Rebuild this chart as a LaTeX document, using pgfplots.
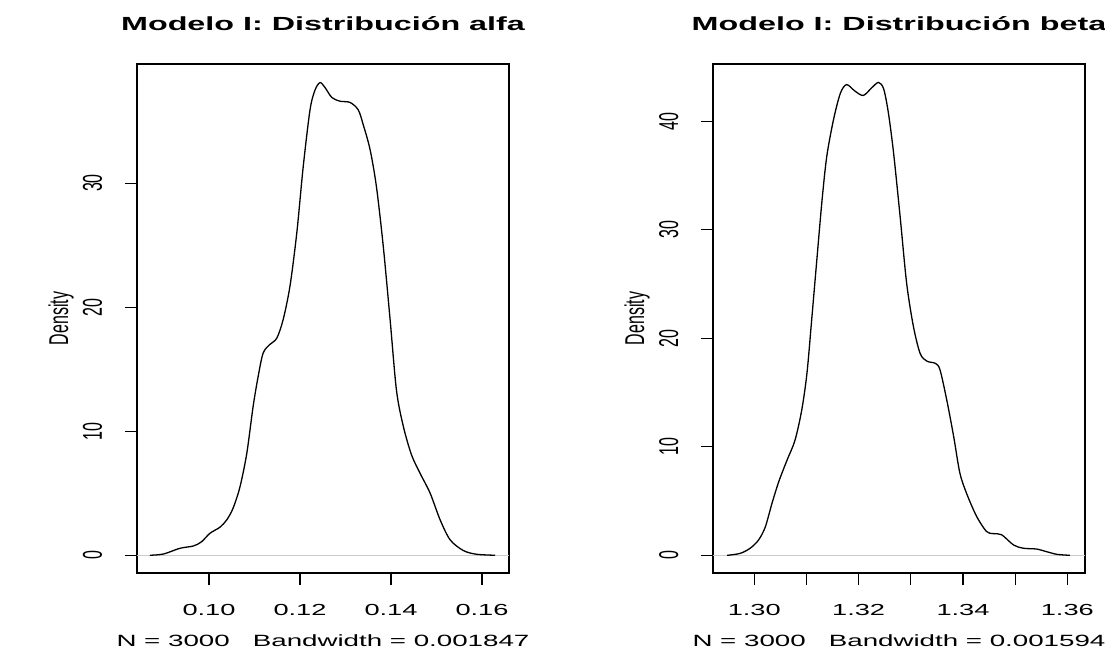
\documentclass[border=0pt]{standalone}
\usepackage{fontspec}
\setmainfont{Liberation Sans}[FakeStretch=1.7]
\newfontfamily\plainsans{Liberation Sans}
\usepackage{graphicx}
\usepackage{pgfplots}
\pgfplotsset{compat=1.18}

% rotated labels: stretch the glyph height so it reads as a horizontal stretch
\newcommand\vlab[1]{\scalebox{1}[1.7]{\plainsans\fontsize{16}{18}\selectfont #1}}

\pgfplotsset{
  rdens/.style={
    width=372pt, height=509pt, scale only axis,
    axis line style={line width=1.1pt},
    tick align=outside, tick pos=left, major tick length=12pt,
    every tick/.style={black, line width=1.1pt},
    xticklabel style={anchor=base, yshift=-30pt, font=\fontsize{16}{18}\selectfont},
    yticklabel style={xshift=-23pt, rotate=90, anchor=base},
    every axis title/.style={at={(0.5,1)}, anchor=base, yshift=33.3pt,
      font=\fontsize{19}{22}\selectfont\bfseries},
    every axis x label/.style={at={(axis description cs:0.5,0)}, anchor=base,
      yshift=-73pt, font=\fontsize{16.3}{18}\selectfont},
    every axis y label/.style={at={(axis description cs:-0.185,0.5)}, anchor=base, rotate=90},
  }
}

\begin{document}
\begin{tikzpicture}
\useasboundingbox (0,0) rectangle (1105pt,651pt);

\begin{axis}[rdens, at={(137pt,78pt)}, anchor=south west,
    xmin=0.08418, xmax=0.16593, ymin=-1.43, ymax=39.6,
    xtick={0.10,0.12,0.14,0.16}, xticklabels={0.10,0.12,0.14,0.16},
    ytick={0,10,20,30}, yticklabels={\vlab{0},\vlab{10},\vlab{20},\vlab{30}},
    title={Modelo I: Distribución alfa},
    xlabel={N = 3000\ \ \ Bandwidth = 0.001847},
    ylabel={\vlab{Density}}]
  \addplot[gray!40, line width=1pt, forget plot] coordinates {(0.08418,0) (0.16593,0)};
  \addplot[black, line width=1.3pt, smooth] coordinates {
    (0.0870,0) (0.0900,0.1) (0.0936,0.56) (0.0966,0.75) (0.0984,1.1)
    (0.1002,1.77) (0.1024,2.26) (0.1039,2.85) (0.1053,3.8) (0.1068,5.5)
    (0.1083,8.2) (0.1097,12.0) (0.1108,14.4) (0.1119,16.3) (0.1134,17.0)
    (0.1149,17.5) (0.1163,19.0) (0.1178,21.7) (0.1193,26.0) (0.1207,31.3)
    (0.1222,35.9) (0.1233,37.5) (0.1244,38.1) (0.1255,37.7) (0.1270,36.9)
    (0.1288,36.6) (0.1310,36.5) (0.1328,35.9) (0.1339,34.7) (0.1354,32.7)
    (0.1368,29.7) (0.1383,24.9) (0.1398,19.0) (0.1412,13.3) (0.1427,10.4)
    (0.1445,8.1) (0.1464,6.6) (0.1486,5.0) (0.1508,2.85) (0.1530,1.24)
    (0.1559,0.38) (0.1588,0.08) (0.1629,0)
  };
\end{axis}

\begin{axis}[rdens, at={(713pt,78pt)}, anchor=south west,
    xmin=1.29209, xmax=1.36339, ymin=-1.63, ymax=45.3,
    xtick={1.30,1.31,1.32,1.33,1.34,1.35,1.36},
    xticklabels={1.30,,1.32,,1.34,,1.36},
    ytick={0,10,20,30,40}, yticklabels={\vlab{0},\vlab{10},\vlab{20},\vlab{30},\vlab{40}},
    title={Modelo I: Distribución beta},
    xlabel={N = 3000\ \ \ Bandwidth = 0.001594},
    ylabel={\vlab{Density}}]
  \addplot[gray!40, line width=1pt, forget plot] coordinates {(1.29209,0) (1.36339,0)};
  \addplot[black, line width=1.3pt, smooth] coordinates {
    (1.2948,0) (1.2973,0.18) (1.2992,0.65) (1.3008,1.4) (1.3021,2.6)
    (1.3034,4.8) (1.3047,6.8) (1.3063,8.8) (1.3078,10.6) (1.3091,13.4)
    (1.3101,16.8) (1.3110,21.7) (1.3120,27.3) (1.3130,32.8) (1.3139,36.8)
    (1.3152,40.2) (1.3165,42.6) (1.3177,43.4) (1.3193,42.8) (1.3209,42.4)
    (1.3225,43.1) (1.3238,43.6) (1.3248,43.0) (1.3257,40.8) (1.3267,37.1)
    (1.3280,31.0) (1.3292,25.1) (1.3305,21.1) (1.3318,18.6) (1.3331,17.9)
    (1.3347,17.7) (1.3356,17.1) (1.3369,14.3) (1.3382,11.0) (1.3394,7.6)
    (1.3407,5.7) (1.3426,3.6) (1.3445,2.2) (1.3458,2.0) (1.3474,1.9)
    (1.3497,0.95) (1.3516,0.65) (1.3541,0.58) (1.3560,0.34) (1.3580,0.09)
    (1.3605,0)
  };
\end{axis}
\end{tikzpicture}
\end{document}
